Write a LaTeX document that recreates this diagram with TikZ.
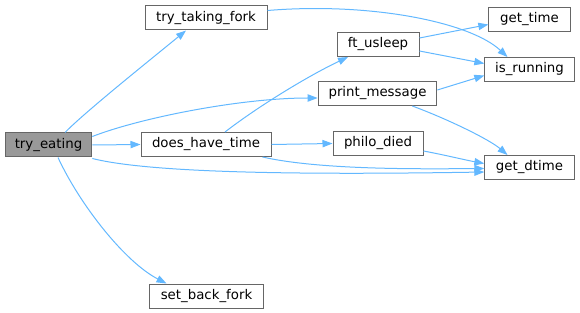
\documentclass[tikz,border=0pt]{standalone}
\usepackage{fontspec}
\setmainfont{DejaVu Sans}
\usetikzlibrary{arrows.meta,calc}
\definecolor{edgeblue}{HTML}{63B8FF}
\definecolor{boxgray}{HTML}{666666}
\definecolor{rootfill}{HTML}{999999}
\begin{document}
\begin{tikzpicture}[x=0.75pt,y=-0.75pt,
  fn/.style={draw=boxgray,fill=white,line width=0.75pt,minimum height=18pt,
    inner sep=0pt,font=\fontsize{10pt}{12pt}\selectfont},
  root/.style={fn,fill=rootfill},
  edge/.style={draw=edgeblue,line width=0.75pt,
    -{Triangle[length=7.5pt,width=5.5pt]}}]
\useasboundingbox (0,0) rectangle (580,313);

% functions called from try_eating
\node[root,minimum width=65pt] (te)  at (48.5,145)  {try\_eating};
\node[fn,minimum width=91.5pt] (tf)  at (206,18)    {try\_taking\_fork};
\node[fn,minimum width=97.5pt] (dht) at (206,144.5) {does\_have\_time};
\node[fn,minimum width=86pt]   (sbf) at (206.5,296) {set\_back\_fork};
\node[fn,minimum width=61.5pt] (fu)  at (378,44.5)  {ft\_usleep};
\node[fn,minimum width=89pt]   (pm)  at (377.5,93.5) {print\_message};
\node[fn,minimum width=67.5pt] (pd)  at (378,143.5) {philo\_died};
\node[fn,minimum width=61pt]   (gt)  at (529.5,19.5) {get\_time};
\node[fn,minimum width=67pt]   (ir)  at (529.5,69.5) {is\_running};
\node[fn,minimum width=67pt]   (gd)  at (529.5,167.5) {get\_dtime};

% try_eating
\draw[edge] ($(te.north)+(16.5,0)$) .. controls (85,112) and (150,60) .. ($(tf.south)+(-20,0)$);
\draw[edge] ($(te.north east)+(0,4)$) .. controls (140,118) and (240,98) .. ($(pm.west)+(0,4.5)$);
\draw[edge] (te.east) -- (dht.west);
\draw[edge] ($(te.south east)+(0,1)$) .. controls (150,173) and (300,175) .. ($(gd.west)+(0,4.5)$);
\draw[edge] ($(te.south)+(9.5,0)$) .. controls (80,205) and (125,262) .. ($(sbf.north)+(-40,0)$);

% try_taking_fork
\draw[edge] ($(tf.north east)+(0,5)$) .. controls (370,2) and (470,22) .. ($(ir.north)+(-22,0)$);

% does_have_time
\draw[edge] ($(dht.north)+(19,0)$) .. controls (260,105) and (310,75) .. ($(fu.south)+(-30,0)$);
\draw[edge] (dht.east) -- (pd.west);
\draw[edge] ($(dht.south east)+(-9,0)$) .. controls (320,170) and (420,169) .. ($(gd.west)+(0,1)$);

% ft_usleep
\draw[edge] ($(fu.east)+(0,-6.5)$) -- ($(gt.west)+(0,5)$);
\draw[edge] ($(fu.east)+(0,6.5)$) -- ($(ir.west)+(0,-6)$);

% print_message
\draw[edge] ($(pm.east)+(0,-3.5)$) -- ($(ir.west)+(0,6)$);
\draw[edge] ($(pm.south east)+(-25,0)$) .. controls (450,120) and (490,140) .. ($(gd.north)+(-22,0)$);

% philo_died
\draw[edge] ($(pd.east)+(0,7.5)$) .. controls (445,155) and (465,160) .. ($(gd.west)+(0,-4)$);
\end{tikzpicture}
\end{document}
